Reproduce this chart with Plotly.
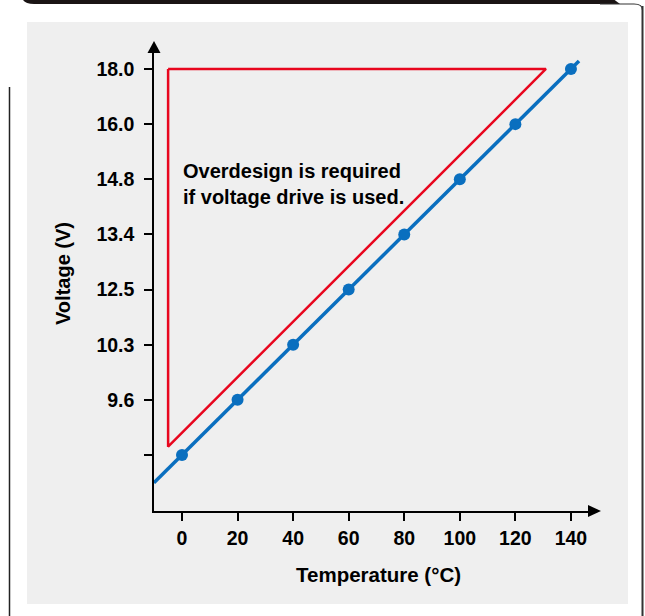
import numpy as np
import plotly.graph_objects as go

# ---- data ----
temperatures = [0, 20, 40, 60, 80, 100, 120, 140]
voltage_labels = ["", "9.6", "10.3", "12.5", "13.4", "14.8", "16.0", "18.0"]
voltage_levels = list(range(len(voltage_labels)))  # evenly spaced categorical levels

overdesign_temps = [-5, 131, -5, -5]
overdesign_levels = [7, 7, 0.15, 7]

line_extent = [-10.1, 142.9]
annotation_text = "Overdesign is required<br>if voltage drive is used."

# ---- layout geometry (pixels) ----
W, H = 645, 616
L, R, T, B = 154, 589, 53, 511
pw, ph = R - L, B - T


def px(x):
    return (x - L) / pw


def py(y):
    return (B - y) / ph


FONT = "Liberation Sans, Arial, sans-serif"
BLUE = "#0a6fbf"
RED = "#e8061e"

slope, intercept = np.polyfit(temperatures, voltage_levels, 1)
ext_y = [slope * x + intercept for x in line_extent]

fig = go.Figure()
fig.add_trace(go.Scatter(x=overdesign_temps, y=overdesign_levels, mode="lines",
                         line=dict(color=RED, width=2.5), hoverinfo="skip",
                         showlegend=False))
fig.add_trace(go.Scatter(x=line_extent, y=ext_y, mode="lines",
                         line=dict(color=BLUE, width=3.5), hoverinfo="skip",
                         showlegend=False))
fig.add_trace(go.Scatter(x=temperatures, y=voltage_levels, mode="markers",
                         marker=dict(color=BLUE, size=12), showlegend=False))

shapes = []
# gray panel
shapes.append(dict(type="rect", xref="paper", yref="paper", layer="below",
                   x0=px(27), x1=px(628), y0=py(604), y1=py(22),
                   fillcolor="#efefef", line=dict(width=0)))
# left frame line
shapes.append(dict(type="line", xref="paper", yref="paper",
                   x0=px(9.5), x1=px(9.5), y0=py(87), y1=py(616),
                   line=dict(color="#222", width=1.5)))
# right frame line
shapes.append(dict(type="line", xref="paper", yref="paper",
                   x0=px(642.5), x1=px(642.5), y0=py(6), y1=py(616),
                   line=dict(color="#333", width=2)))
# top dark bar
shapes.append(dict(type="path", xref="paper", yref="paper",
                   path=f"M{px(22)},{py(-2)} Q{px(24)},{py(4)} {px(34)},{py(4)} "
                        f"L{px(620)},{py(4)} L{px(612)},{py(-2)} Z",
                   fillcolor="#1a1414", line=dict(width=0)))
shapes.append(dict(type="path", xref="paper", yref="paper",
                   path=f"M{px(600)},{py(4)} L{px(634)},{py(4)} Q{px(642.5)},{py(4)} {px(642.5)},{py(10)}",
                   line=dict(color="#333", width=1.2)))
# axis arrowheads
shapes.append(dict(type="path", xref="paper", yref="paper",
                   path=f"M{px(147.5)},{py(53)} L{px(160.5)},{py(53)} L{px(154)},{py(41)} Z",
                   fillcolor="black", line=dict(width=0)))
shapes.append(dict(type="path", xref="paper", yref="paper",
                   path=f"M{px(588)},{py(505)} L{px(588)},{py(517)} L{px(601)},{py(511)} Z",
                   fillcolor="black", line=dict(width=0)))

annotations = [
    dict(x=-0.5, y=4.92, xref="x", yref="y", text=annotation_text, showarrow=False,
         xanchor="left", yanchor="middle", align="left",
         font=dict(family=FONT, size=20, color="black", weight="bold")),
    dict(x=px(378), y=py(574), xref="paper", yref="paper", text="Temperature (°C)",
         showarrow=False, xanchor="center", yanchor="middle",
         font=dict(family=FONT, size=20.5, color="black", weight="bold")),
    dict(x=px(63), y=py(274), xref="paper", yref="paper", text="Voltage (V)",
         showarrow=False, xanchor="center", yanchor="middle", textangle=-90,
         font=dict(family=FONT, size=20, color="black", weight="bold")),
]

fig.update_layout(
    width=W, height=H,
    margin=dict(l=L, r=W - R, t=T, b=H - B, pad=0),
    paper_bgcolor="white", plot_bgcolor="rgba(0,0,0,0)",
    shapes=shapes, annotations=annotations, showlegend=False,
    font=dict(family=FONT, size=19, color="black"),
)
fig.update_xaxes(range=[-10.08, 146.5], tickvals=temperatures,
                 ticktext=[str(t) for t in temperatures],
                 showgrid=False, zeroline=False, showline=True,
                 linecolor="black", linewidth=1.5,
                 ticks="outside", ticklen=8, tickwidth=1.5, tickcolor="black",
                 tickfont=dict(family=FONT, size=19.5, color="black", weight="bold"),
                 ticklabelstandoff=1)
fig.update_yaxes(range=[-1.016, 7.29], tickvals=voltage_levels,
                 ticktext=voltage_labels,
                 showgrid=False, zeroline=False, showline=True,
                 linecolor="black", linewidth=1.5,
                 ticks="outside", ticklen=8, tickwidth=1.5, tickcolor="black",
                 tickfont=dict(family=FONT, size=19.5, color="black", weight="bold"),
                 ticklabelstandoff=6)

fig.write_html("out.html", config={"displayModeBar": False},
               post_script="document.body.style.margin='0';document.body.style.padding='0';")
